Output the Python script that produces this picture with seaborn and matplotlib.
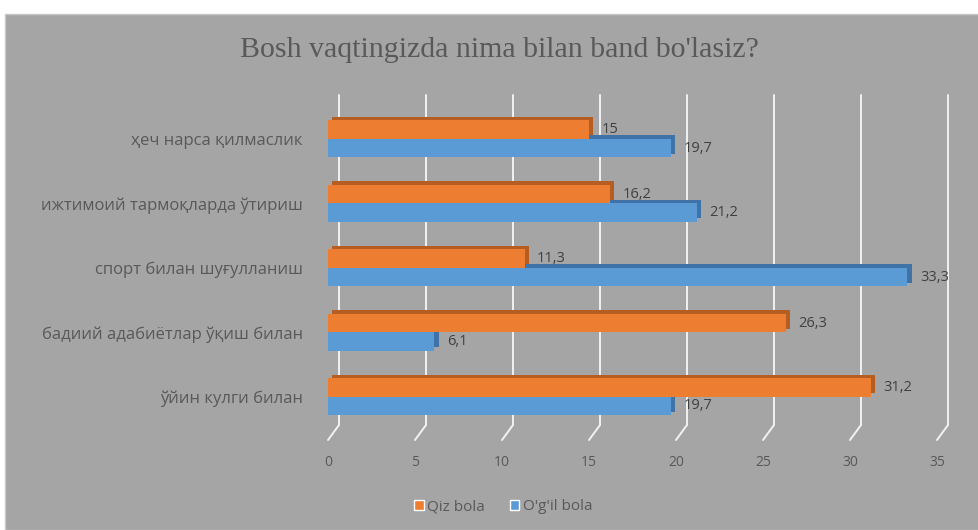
import numpy as np
import pandas as pd
import matplotlib
matplotlib.use("Agg")
import matplotlib.pyplot as plt
import matplotlib.patheffects as pe
from matplotlib import transforms
from matplotlib.patches import Rectangle
import seaborn as sns

categories = ['ҳеч нарса қилмаслик', 'ижтимоий тармоқларда ўтириш', 'спорт билан шуғулланиш',
              'бадиий адабиётлар ўқиш билан', 'ўйин кулги билан']
qiz_bola = [15, 16.2, 11.3, 26.3, 31.2]
ogil_bola = [19.7, 21.2, 33.3, 6.1, 19.7]
series = ['Qiz bola', "O'g'il bola"]
colors = ['#ED7D31', '#5B9BD5']
dark = ['#B65E22', '#3F72A6']

df = pd.DataFrame({
    'cat': categories * 2,
    'val': qiz_bola + ogil_bola,
    'who': [series[0]] * 5 + [series[1]] * 5,
})

sns.set_theme(style='white')
plt.rcParams['font.family'] = ['Open Sans', 'DejaVu Sans']

fig = plt.figure(figsize=(9.79, 5.30), dpi=100, facecolor='white')
fig.patches.append(Rectangle((5 / 979, 0), 1, (530 - 14) / 530, transform=fig.transFigure,
                             facecolor='#A5A5A5', edgecolor='#C8C8C8', lw=1, zorder=-5))
ax = fig.add_axes([328 / 979, 1 - 440 / 530, (937 - 328) / 979, (440 - 95) / 530])
ax.set_facecolor('none')

sns.barplot(data=df, y='cat', x='val', hue='who', hue_order=series, palette=colors,
            orient='h', width=0.57, ax=ax, saturation=1, legend=True)

# fake 3D depth for the bars
for i, cont in enumerate(ax.containers):
    for bar in cont:
        bar.set_edgecolor('none')
        bar.set_zorder(4 if i == 0 else 3)
        bar.set_path_effects([pe.SimplePatchShadow(offset=(3.2, 2.6), shadow_rgbFace=dark[i], alpha=1),
                              pe.Normal()])
    vals = qiz_bola if i == 0 else ogil_bola
    ax.bar_label(cont, labels=[f'{v:g}'.replace('.', ',') for v in vals], padding=9,
                 fontsize=10.5, color='#404040', zorder=6)

ax.set_xlim(0, 35)
ax.set_ylim(4.67, -0.68)
ax.set_xticks(np.arange(0, 40, 5))

# back wall gridlines and floor lines
blend = transforms.blended_transform_factory(ax.transData, ax.transAxes)
back = transforms.offset_copy(blend, fig=fig, x=11, y=0, units='dots')
for t in ax.get_xticks():
    ax.plot([t, t], [15 / 345, 1], color='#F2F2F2', lw=1.4, transform=back, zorder=1, clip_on=False)
    ax.annotate('', xy=(t, 0), xycoords=blend, xytext=(11, 15), textcoords='offset pixels',
                arrowprops=dict(arrowstyle='-', color='#F2F2F2', lw=1.4, shrinkA=0, shrinkB=0),
                zorder=1)

for s in ax.spines.values():
    s.set_visible(False)
ax.tick_params(axis='x', length=0, pad=11, labelsize=10, labelcolor='#595959')
ax.tick_params(axis='y', length=0, pad=18, labelsize=12, labelcolor='#595959')
ax.set_xlabel('')
ax.set_ylabel('')

sns.move_legend(ax, 'center', bbox_to_anchor=(0.514, 1 - 507 / 530), bbox_transform=fig.transFigure,
                ncol=2, frameon=False, title=None, fontsize=11, handlelength=0.6, handleheight=0.6,
                handletextpad=0.25, columnspacing=1.6, labelcolor='#595959')

fig.text(0.51, 1 - 50 / 530, "Bosh vaqtingizda nima bilan band bo'lasiz?", ha='center', va='center',
         fontsize=21.5, color='#595959', family='Liberation Serif')

fig.savefig('out.png', dpi=100, facecolor='white')
